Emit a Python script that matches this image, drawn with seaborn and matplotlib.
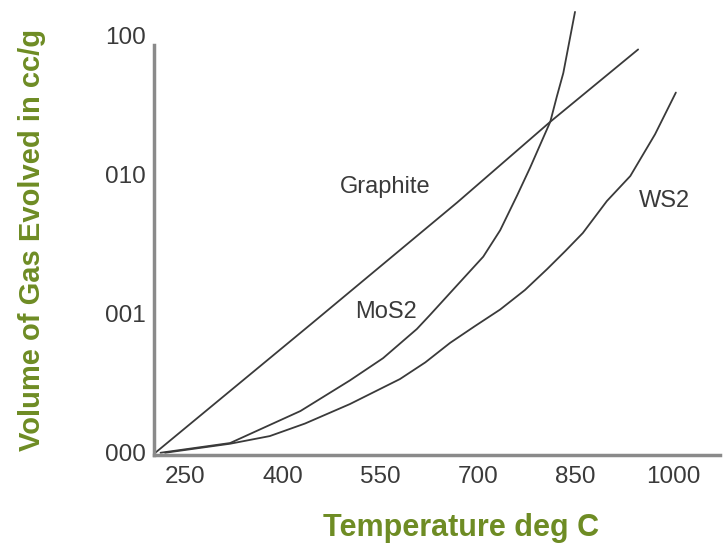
import matplotlib
matplotlib.use("Agg")
import matplotlib.pyplot as plt
import seaborn as sns
import pandas as pd

# values (y axis: 0..3 steps labelled 000/001/010/100)
graphite_t = [204, 442, 668, 811, 946]
graphite_v = [0.0, 0.92, 1.80, 2.38, 2.90]

mos2_t = [212, 319, 380, 427, 503, 554, 606, 626, 665, 708, 734, 760, 780, 795,
          811, 821, 831, 840, 849]
mos2_v = [0.0, 0.07, 0.20, 0.30, 0.52, 0.68, 0.89, 0.99, 1.19, 1.41, 1.60, 1.85,
          2.05, 2.21, 2.38, 2.56, 2.73, 2.95, 3.17]

ws2_t = [219, 319, 380, 434, 503, 580, 619, 657, 695, 734, 772, 806, 834, 861,
         898, 934, 972, 1004]
ws2_v = [0.0, 0.065, 0.12, 0.21, 0.35, 0.53, 0.65, 0.79, 0.91, 1.03, 1.17, 1.32,
         1.45, 1.58, 1.81, 1.99, 2.29, 2.59]

x_ticks = [250, 400, 550, 700, 850, 1000]
y_ticks = [0, 1, 2, 3]
y_labels = ["000", "001", "010", "100"]

df = pd.concat([
    pd.DataFrame({"t": graphite_t, "v": graphite_v, "s": "Graphite"}),
    pd.DataFrame({"t": mos2_t, "v": mos2_v, "s": "MoS2"}),
    pd.DataFrame({"t": ws2_t, "v": ws2_v, "s": "WS2"}),
])

sns.set_style("white")
plt.rcParams['font.family'] = ['Liberation Sans', 'DejaVu Sans']

fig = plt.figure(figsize=(7.23, 5.52), dpi=100)
ax = fig.add_axes([0.213, 0.176, 0.783, 0.81])

sns.lineplot(data=df, x="t", y="v", units="s", estimator=None, sort=False,
             color="#3a3a3a", linewidth=1.3, ax=ax)

ax.set_xlim(202, 1072)
ax.set_ylim(-0.015, 3.2)
ax.set_xticks(x_ticks)
ax.set_yticks(y_ticks)
ax.set_yticklabels(y_labels)
ax.tick_params(axis="both", length=0, labelsize=17.5, colors="#3a3a3a")
ax.tick_params(axis="x", pad=8)
ax.tick_params(axis="y", pad=6)

for side in ["top", "right"]:
    ax.spines[side].set_visible(False)
for side in ["left", "bottom"]:
    ax.spines[side].set_color("#8a8a8a")
    ax.spines[side].set_linewidth(2.5)
ax.spines["left"].set_bounds(-0.015, 2.93)

green = "#6e8c24"
ax.set_xlabel("Temperature deg C", fontsize=22, fontweight="bold", color=green)
ax.set_ylabel("Volume of Gas Evolved in cc/g", fontsize=21, fontweight="bold", color=green)
ax.xaxis.set_label_coords(0.542, -0.13)
ax.yaxis.set_label_coords(-0.19, 0.48)

ax.text(557, 1.91, "Graphite", fontsize=17, color="#3a3a3a", ha="center", va="center")
ax.text(559, 1.01, "MoS2", fontsize=17, color="#3a3a3a", ha="center", va="center")
ax.text(986, 1.81, "WS2", fontsize=17, color="#3a3a3a", ha="center", va="center")

fig.savefig("out.png", dpi=100)
